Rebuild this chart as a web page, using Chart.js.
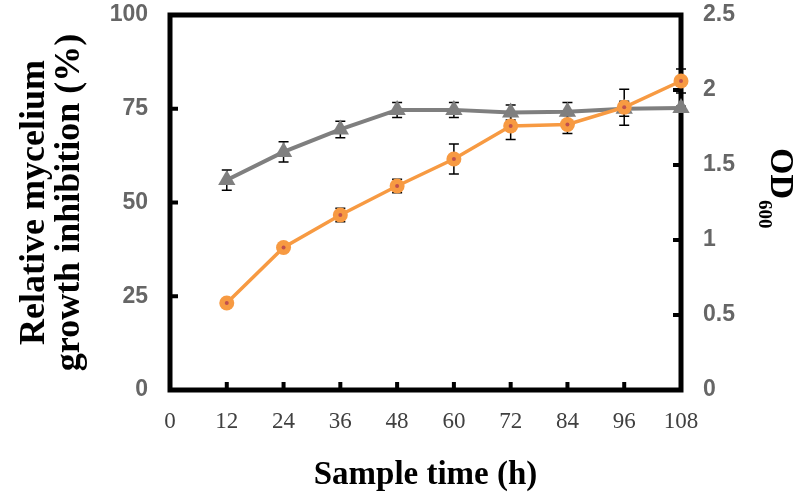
<!DOCTYPE html>
<html>
<head>
<meta charset="utf-8">
<script src="https://cdn.jsdelivr.net/npm/chart.js@4"></script>
<style>
  html, body { margin: 0; padding: 0; background: #fff; }
  #wrap { width: 800px; height: 500px; }
</style>
</head>
<body>
<div id="wrap"><canvas id="growthChart" width="800" height="500"></canvas></div>
<script>
// Datos
const sampleTimes = [12, 24, 36, 48, 60, 72, 84, 96, 108];
const inhibition = [56, 63.5, 69.5, 74.7, 74.7, 74, 74.2, 75, 75.2];
const inhibitionErr = [2.7, 2.7, 2.2, 2, 2, 2, 2.5, 2, 0.5];
const od600 = [0.58, 0.95, 1.167, 1.36, 1.54, 1.76, 1.77, 1.885, 2.06];
const od600Err = [0.02, 0.02, 0.045, 0.045, 0.1, 0.09, 0.06, 0.12, 0.08];
const xTicks = [0, 12, 24, 36, 48, 60, 72, 84, 96, 108];
const leftTicks = [0, 25, 50, 75, 100];
const rightTicks = [0, 0.5, 1, 1.5, 2, 2.5];

const toPoints = (ys) => sampleTimes.map((x, i) => ({ x: x, y: ys[i] }));

// Marco negro y marcas hacia dentro
const framePlugin = {
  id: 'frame',
  beforeDatasetsDraw(chart) {
    const { ctx, chartArea: a, scales } = chart;
    ctx.save();
    ctx.strokeStyle = '#000';
    ctx.lineWidth = 5;
    ctx.strokeRect(a.left, a.top, a.right - a.left, a.bottom - a.top);
    ctx.fillStyle = '#000';
    xTicks.slice(1, -1).forEach(v => {
      const px = scales.x.getPixelForValue(v);
      ctx.fillRect(px - 2, a.bottom - 8, 4, 6);
    });
    leftTicks.slice(1, -1).forEach(v => {
      const py = scales.y.getPixelForValue(v);
      ctx.fillRect(a.left + 2, py - 2, 6, 4);
    });
    rightTicks.slice(1, -1).forEach(v => {
      const py = scales.y1.getPixelForValue(v);
      ctx.fillRect(a.right - 8, py - 2, 6, 4);
    });

    // Barras de error
    const drawErr = (ys, errs, scale) => {
      ctx.strokeStyle = '#000';
      ctx.lineWidth = 1.5;
      sampleTimes.forEach((t, i) => {
        const px = scales.x.getPixelForValue(t);
        const top = scale.getPixelForValue(ys[i] + errs[i]);
        const bot = scale.getPixelForValue(ys[i] - errs[i]);
        ctx.beginPath();
        ctx.moveTo(px, top); ctx.lineTo(px, bot);
        ctx.moveTo(px - 5, top); ctx.lineTo(px + 5, top);
        ctx.moveTo(px - 5, bot); ctx.lineTo(px + 5, bot);
        ctx.stroke();
      });
    };
    drawErr(inhibition, inhibitionErr, scales.y);
    drawErr(od600, od600Err, scales.y1);
    ctx.restore();
  },
  afterDatasetsDraw(chart) {
    // punto rojo en el centro de los círculos naranjas
    const { ctx } = chart;
    const meta = chart.getDatasetMeta(0);
    ctx.save();
    ctx.fillStyle = '#c0504d';
    meta.data.forEach(p => {
      ctx.beginPath();
      ctx.arc(p.x, p.y, 2, 0, Math.PI * 2);
      ctx.fill();
    });
    ctx.restore();
  },
  afterDraw(chart) {
    // título del eje derecho con subíndice
    const { ctx } = chart;
    ctx.save();
    ctx.translate(771, 148);
    ctx.rotate(Math.PI / 2);
    ctx.fillStyle = '#000';
    ctx.textBaseline = 'alphabetic';
    ctx.font = 'bold 34px "Liberation Serif"';
    ctx.fillText('OD', 0, 0);
    const w = ctx.measureText('OD').width;
    ctx.font = 'bold 19px "Liberation Serif"';
    ctx.fillText('600', w + 1, 12);
    ctx.restore();
  }
};

const noPad = (s) => { s.paddingTop = 0; s.paddingBottom = 0; s.paddingLeft = 0; s.paddingRight = 0; };

const ctx = document.getElementById('growthChart').getContext('2d');

const growthChart = new Chart(ctx, {
  type: 'line',
  data: {
    datasets: [{
      label: 'OD600',
      data: toPoints(od600),
      yAxisID: 'y1',
      borderColor: '#f79a42',
      backgroundColor: '#f79a42',
      borderWidth: 3.5,
      pointStyle: 'circle',
      pointRadius: 7.5,
      pointBorderWidth: 0,
      clip: false
    }, {
      label: 'Relative mycelium growth inhibition',
      data: toPoints(inhibition),
      yAxisID: 'y',
      borderColor: '#7f7f7f',
      backgroundColor: '#7f7f7f',
      borderWidth: 4,
      pointStyle: 'triangle',
      pointRadius: 10,
      pointBorderWidth: 0,
      clip: false
    }]
  },
  options: {
    responsive: false,
    animation: false,
    layout: { padding: { top: 15, left: 0, right: 0, bottom: 0 } },
    plugins: {
      legend: { display: false },
      tooltip: { enabled: false }
    },
    scales: {
      x: {
        type: 'linear',
        min: 0,
        max: 108,
        afterBuildTicks: (s) => { s.ticks = xTicks.map(v => ({ value: v })); },
        afterFit: (s) => { s.height = 110; noPad(s); },
        grid: { display: false, drawTicks: false },
        border: { display: false },
        ticks: {
          padding: 18,
          color: '#404040',
          font: { family: 'Liberation Serif', size: 23 }
        },
        title: {
          display: true,
          text: 'Sample time (h)',
          color: '#000',
          font: { family: 'Liberation Serif', size: 33, weight: 'bold', lineHeight: 1 },
          padding: { top: 0, bottom: 8 }
        }
      },
      y: {
        position: 'left',
        min: 0,
        max: 100,
        afterBuildTicks: (s) => { s.ticks = leftTicks.map(v => ({ value: v })); },
        afterFit: (s) => { s.width = 170; noPad(s); },
        grid: { display: false, drawTicks: false },
        border: { display: false },
        ticks: {
          padding: 22,
          color: '#666666',
          font: { family: 'Liberation Sans', size: 23, weight: 'bold' }
        },
        title: {
          display: true,
          text: ['Relative mycelium', 'growth inhibition (%)'],
          color: '#000',
          font: { family: 'Liberation Serif', size: 36, weight: 'bold', lineHeight: 0.95 },
          padding: { top: 18, bottom: 0 }
        }
      },
      y1: {
        position: 'right',
        min: 0,
        max: 2.5,
        afterBuildTicks: (s) => { s.ticks = rightTicks.map(v => ({ value: v })); },
        afterFit: (s) => { s.width = 119; noPad(s); },
        grid: { display: false, drawTicks: false },
        border: { display: false },
        ticks: {
          padding: 22,
          color: '#666666',
          font: { family: 'Liberation Sans', size: 23, weight: 'bold' },
          callback: (v) => String(v)
        },
        title: { display: false }
      }
    }
  },
  plugins: [framePlugin]
});
</script>
</body>
</html>
